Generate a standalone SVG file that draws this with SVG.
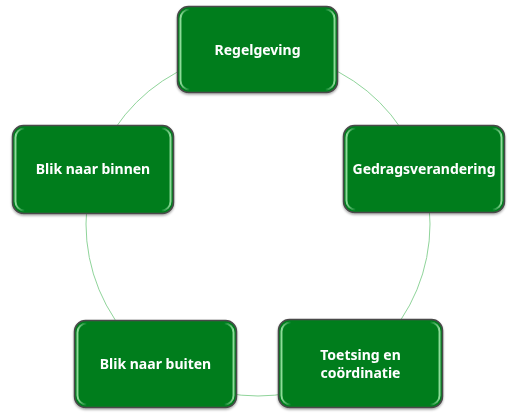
<svg xmlns="http://www.w3.org/2000/svg" width="514" height="417" viewBox="0 0 514 417">
<defs>
<linearGradient id="hl" x1="0" y1="0" x2="1" y2="0">
<stop offset="0" stop-color="#9ee6a6" stop-opacity="0.9"/>
<stop offset="0.06" stop-color="#9ee6a6" stop-opacity="0"/>
<stop offset="0.94" stop-color="#9ee6a6" stop-opacity="0"/>
<stop offset="1" stop-color="#9ee6a6" stop-opacity="0.9"/>
</linearGradient>
<filter id="sh" x="-10%" y="-10%" width="120%" height="130%">
<feDropShadow dx="0" dy="1.5" stdDeviation="1" flood-color="#000" flood-opacity="0.35"/>
</filter>
</defs>
<style>
.box{fill:#007d1f;stroke:#4a4a4a;stroke-width:1.5}
.gl{fill:none;stroke:url(#hl);stroke-width:2}
.lbl{font-family:"Noto Sans","Open Sans",sans-serif;font-weight:bold;font-size:14px;fill:#ffffff;text-anchor:middle}
.ring{fill:none;stroke:#8fd49a;stroke-width:1}
</style>
<g id="connectors">
<circle class="ring" cx="258" cy="224" r="172"/>
</g>
<g id="n1" filter="url(#sh)">
<rect class="box" x="177.5" y="6.5" width="160" height="86" rx="11"/>
<rect class="gl" x="180.5" y="9.5" width="154" height="80" rx="9"/>
<text class="lbl" x="257.5" y="55">Regelgeving</text>
</g>
<g id="n2" filter="url(#sh)">
<rect class="box" x="343.5" y="125.5" width="161" height="87" rx="11"/>
<rect class="gl" x="346.5" y="128.5" width="155" height="81" rx="9"/>
<text class="lbl" x="424" y="174">Gedragsverandering</text>
</g>
<g id="n3" filter="url(#sh)">
<rect class="box" x="278.5" y="319.5" width="164" height="88" rx="11"/>
<rect class="gl" x="281.5" y="322.5" width="158" height="82" rx="9"/>
<text class="lbl" x="360.5" y="360">Toetsing en</text>
<text class="lbl" x="360.5" y="378">coördinatie</text>
</g>
<g id="n4" filter="url(#sh)">
<rect class="box" x="74.5" y="320.5" width="162" height="87" rx="11"/>
<rect class="gl" x="77.5" y="323.5" width="156" height="81" rx="9"/>
<text class="lbl" x="155.5" y="369">Blik naar buiten</text>
</g>
<g id="n5" filter="url(#sh)">
<rect class="box" x="12.5" y="125.5" width="161" height="88" rx="11"/>
<rect class="gl" x="15.5" y="128.5" width="155" height="82" rx="9"/>
<text class="lbl" x="93" y="174">Blik naar binnen</text>
</g>
</svg>
